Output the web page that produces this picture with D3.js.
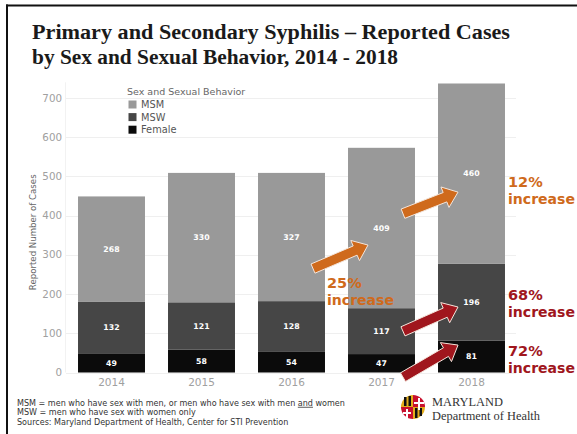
<!DOCTYPE html>
<html><head><meta charset="utf-8">
<script src="https://cdn.jsdelivr.net/npm/d3@7"></script>
<style>body{margin:0;background:#fff}svg{display:block}</style>
</head><body>
<svg id="c" width="577" height="434"></svg>
<script>
const years = ["2014","2015","2016","2017","2018"];
const msm = [268,330,327,409,460];
const msw = [132,121,128,117,196];
const female = [49,58,54,47,81];
const seriesNames = ["Female","MSW","MSM"];
const legendNames = ["MSM","MSW","Female"];
const yTicks = [0,100,200,300,400,500,600,700];
const notes = ["MSM = men who have sex with men, or men who have sex with men ", "MSW = men who have sex with women only", "Sources: Maryland Department of Health, Center for STI Prevention"];
const annotations = [
  {pct:"25%", from:["2016",265], to:["2017",325], color:"#cf6a1c", text:[327,283]},
  {pct:"12%", from:["2017",405], to:["2018",460], color:"#cf6a1c", text:[508,182]},
  {pct:"68%", from:["2017",105], to:["2018",167], color:"#a0161d", text:[508,295]},
  {pct:"72%", from:["2017",-12], to:["2018",70], color:"#a0161d", text:[508,351]}
];

const colors = {MSM:"#999999", MSW:"#464646", Female:"#0b0b0b"};
const svg = d3.select("#c");
const x = d3.scaleBand().domain(years).range([66.5,516.5]).paddingInner(0.256).paddingOuter(0.128);
const y = d3.scaleLinear().domain([0,700]).range([372.5,98]);

// frame
svg.append("line").attr("x1",6).attr("x2",577).attr("y1",5.5).attr("y2",5.5).attr("stroke","#111").attr("stroke-width",2);
svg.append("line").attr("x1",7).attr("x2",7).attr("y1",4.5).attr("y2",434).attr("stroke","#111").attr("stroke-width",2);

// title
const title = svg.append("g").attr("font-family","'Liberation Serif','DejaVu Serif',serif").attr("font-weight","bold").attr("font-size",20).attr("fill","#1a1a1a");
title.append("text").attr("x",32).attr("y",39).attr("textLength",478).attr("lengthAdjust","spacingAndGlyphs").text("Primary and Secondary Syphilis \u2013 Reported Cases");
title.append("text").attr("x",32).attr("y",64).attr("textLength",366).attr("lengthAdjust","spacingAndGlyphs").text("by Sex and Sexual Behavior, 2014 - 2018");

// gridlines
svg.append("g").selectAll("line").data(yTicks).join("line")
  .attr("x1",66).attr("x2",516).attr("y1",d=>Math.round(y(d))+0.5).attr("y2",d=>Math.round(y(d))+0.5)
  .attr("stroke","#efefef").attr("stroke-width",1);
svg.append("line").attr("x1",65.5).attr("x2",65.5).attr("y1",y(740)).attr("y2",y(0)).attr("stroke","#f2f2f2");

// y axis labels
svg.append("g").selectAll("text").data(yTicks).join("text")
  .attr("x",62).attr("y",d=>y(d)).attr("dy","0.35em").attr("text-anchor","end")
  .attr("font-family","'DejaVu Sans',sans-serif").attr("font-size",10.3).attr("fill","#a0a0a0").text(d=>d);
svg.append("text").attr("transform",`translate(36,${(y(0)+y(700))/2 - 3}) rotate(-90)`).attr("text-anchor","middle")
  .attr("font-family","'DejaVu Sans',sans-serif").attr("font-size",8.6).attr("fill","#666").text("Reported Number of Cases");

// stacked bars
const table = years.map((yr,i)=>({year:yr, MSM:msm[i], MSW:msw[i], Female:female[i]}));
const stack = d3.stack().keys(seriesNames)(table);
const g = svg.append("g");
stack.forEach(layer=>{
  g.append("g").attr("fill",colors[layer.key]).selectAll("rect").data(layer).join("rect")
    .attr("x",d=>x(d.data.year)).attr("width",x.bandwidth())
    .attr("y",d=>y(d[1])).attr("height",d=>y(d[0])-y(d[1]));
  g.append("g").selectAll("text").data(layer).join("text")
    .attr("x",d=>x(d.data.year)+x.bandwidth()/2).attr("y",d=>(y(d[0])+y(d[1]))/2).attr("dy","0.35em")
    .attr("text-anchor","middle").attr("font-family","'DejaVu Sans',sans-serif").attr("font-weight","bold")
    .attr("font-size",7.8).attr("fill","#fff").text(d=>d[1]-d[0]);
});

// x labels
svg.append("g").selectAll("text").data(years).join("text")
  .attr("x",d=>x(d)+x.bandwidth()/2).attr("y",382).attr("dy","0.35em").attr("text-anchor","middle")
  .attr("font-family","'DejaVu Sans',sans-serif").attr("font-size",10.5).attr("fill","#a0a0a0").text(d=>d);

// legend
const lg = svg.append("g").attr("font-family","'DejaVu Sans',sans-serif");
lg.append("text").attr("x",127).attr("y",92).attr("dy","0.35em").attr("font-size",9.5).attr("fill","#666").text("Sex and Sexual Behavior");
legendNames.forEach((n,i)=>{
  lg.append("rect").attr("x",128.5).attr("y",100.5+i*12.6).attr("width",8).attr("height",8).attr("fill",colors[n]);
  lg.append("text").attr("x",141).attr("y",104.8+i*12.6).attr("dy","0.35em").attr("font-size",9.8).attr("fill","#555").text(n);
});

// arrows
function arrowPath(x1,y1,x2,y2,sw,hw,hl){
  const dx=x2-x1, dy=y2-y1, len=Math.hypot(dx,dy), ux=dx/len, uy=dy/len, nx=-uy, ny=ux;
  const bx=x2-ux*hl, by=y2-uy*hl;
  const p=[[x1+nx*sw,y1+ny*sw],[bx+nx*sw,by+ny*sw],[bx+nx*hw,by+ny*hw],[x2,y2],[bx-nx*hw,by-ny*hw],[bx-nx*sw,by-ny*sw],[x1-nx*sw,y1-ny*sw]];
  return "M"+p.map(q=>q.join(",")).join("L")+"Z";
}
annotations.forEach(a=>{
  const x1 = x(a.from[0]) + x.bandwidth() - 12, y1 = y(a.from[1]);
  const x2 = x(a.to[0]) + 20, y2 = y(a.to[1]);
  svg.append("path").attr("d",arrowPath(x1,y1,x2,y2,5,11,14)).attr("fill",a.color).attr("stroke","#f4e6dc").attr("stroke-width",1);
  const t = svg.append("text").attr("font-family","'DejaVu Sans',sans-serif").attr("font-weight","bold").attr("font-size",14.5).attr("fill",a.color);
  t.append("tspan").attr("x",a.text[0]).attr("y",a.text[1]).attr("dy","0.35em").text(a.pct);
  t.append("tspan").attr("x",a.text[0]).attr("y",a.text[1]+17).attr("dy","0.35em").attr("textLength",67).attr("lengthAdjust","spacingAndGlyphs").text("increase");
});

// notes
const nt = svg.append("g").attr("font-family","'DejaVu Sans',sans-serif").attr("font-size",8.05).attr("fill","#333");
const n0 = nt.append("text").attr("x",17).attr("y",403).attr("dy","0.35em");
n0.append("tspan").text(notes[0]);
n0.append("tspan").attr("text-decoration","underline").text("and");
n0.append("tspan").text(" women");
nt.append("text").attr("x",17).attr("y",412).attr("dy","0.35em").text(notes[1]);
nt.append("text").attr("x",17).attr("y",422).attr("dy","0.35em").text(notes[2]);

// logo
const lx=413, ly=407, r=12;
const logo = svg.append("g");
const arc = d3.arc().innerRadius(0).outerRadius(r);
const quads = [["#e3ac1c",-Math.PI/2,0],["#c8102e",0,Math.PI/2],["#e3ac1c",Math.PI/2,Math.PI],["#c8102e",Math.PI,1.5*Math.PI]];
quads.forEach(q=>logo.append("path").attr("transform",`translate(${lx},${ly})`).attr("d",arc({startAngle:q[1],endAngle:q[2]})).attr("fill",q[0]));
logo.append("rect").attr("x",lx-9).attr("y",ly-10).attr("width",2.5).attr("height",9).attr("fill","#111");
logo.append("rect").attr("x",lx-4.5).attr("y",ly-11).attr("width",2.5).attr("height",10).attr("fill","#111");
logo.append("rect").attr("x",lx+2).attr("y",ly+1).attr("width",2.5).attr("height",10).attr("fill","#111");
logo.append("rect").attr("x",lx+6.5).attr("y",ly+1).attr("width",2.5).attr("height",8).attr("fill","#111");
logo.append("path").attr("d",`M${lx+6},${ly-9}v12M${lx+1},${ly-4}h10M${lx-6},${ly+2}v9M${lx-10},${ly+6}h8`).attr("stroke","#fff").attr("stroke-width",2);
const lt = svg.append("g").attr("font-family","'Liberation Serif','DejaVu Serif',serif").attr("fill","#333");
lt.append("text").attr("x",432).attr("y",406).attr("font-size",12).attr("textLength",71).attr("lengthAdjust","spacingAndGlyphs").text("MARYLAND");
lt.append("text").attr("x",432).attr("y",419.5).attr("font-size",11.5).attr("textLength",108).attr("lengthAdjust","spacingAndGlyphs").text("Department of Health");
</script>
</body></html>
